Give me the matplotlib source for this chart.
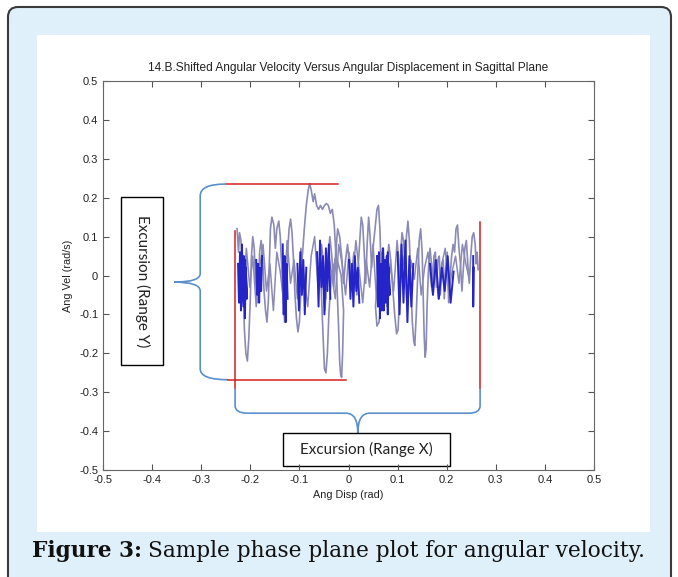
import numpy as np
import matplotlib
matplotlib.use('Agg')
import matplotlib.pyplot as plt
from matplotlib.patches import FancyBboxPatch, Rectangle, PathPatch
from matplotlib.path import Path
from matplotlib.transforms import IdentityTransform

# phase plane trace (displacement rad, velocity rad/s)
disp_trace = [-0.227, -0.224, -0.222, -0.219, -0.217, -0.214, -0.212, -0.209, -0.206, -0.203,
              -0.200, -0.198, -0.195, -0.192, -0.189, -0.186, -0.183, -0.181, -0.178, -0.175,
              -0.172, -0.169, -0.166, -0.163, -0.161, -0.159, -0.156, -0.152, -0.149, -0.146,
              -0.142, -0.139, -0.136, -0.133, -0.130, -0.127, -0.124, -0.121, -0.118, -0.115,
              -0.112, -0.109, -0.106, -0.103, -0.100, -0.097, -0.094, -0.090, -0.086, -0.082,
              -0.079, -0.076, -0.072, -0.069, -0.065, -0.061, -0.057, -0.053, -0.049, -0.045,
              -0.041, -0.037, -0.033, -0.029, -0.026, -0.023, -0.020, -0.018, -0.016, -0.014,
              -0.012, -0.010, -0.015, -0.025, -0.035, -0.040, -0.043, -0.046, -0.049, -0.052,
              -0.055, -0.058, -0.055, -0.050, -0.046, -0.042, -0.038, -0.034, -0.030, -0.026,
              -0.022, -0.018, -0.014, -0.010, -0.006, -0.002, 0.002, 0.005, 0.008, 0.011,
              0.014, 0.017, 0.020, 0.023, 0.026, 0.029, 0.032, 0.035, 0.038, 0.041,
              0.044, 0.047, 0.050, 0.054, 0.058, 0.061, 0.064, 0.066, 0.068, 0.062,
              0.058, 0.055, 0.060, 0.066, 0.070, 0.074, 0.078, 0.082, 0.086, 0.090,
              0.094, 0.098, 0.101, 0.104, 0.106, 0.109, 0.112, 0.115, 0.118, 0.121,
              0.124, 0.127, 0.130, 0.133, 0.135, 0.138, 0.141, 0.144, 0.147, 0.150,
              0.152, 0.154, 0.156, 0.158, 0.160, 0.163, 0.166, 0.169, 0.171, 0.174,
              0.177, 0.179, 0.182, 0.185, 0.187, 0.190, 0.193, 0.195, 0.198, 0.201,
              0.204, 0.207, 0.210, 0.213, 0.216, 0.219, 0.222, 0.225, 0.228, 0.231,
              0.234, 0.237, 0.240, 0.243, 0.246, 0.249, 0.252, 0.255, 0.258, 0.260,
              0.262, 0.264]
vel_trace = [0.12, 0.06, 0.11, 0.09, 0.03, -0.06, -0.14, -0.20, -0.22, -0.16,
             -0.06, 0.04, 0.10, 0.07, -0.02, -0.07, -0.02, 0.06, 0.09, 0.05,
             -0.04, -0.09, -0.12, -0.06, 0.04, 0.12, 0.15, 0.13, 0.07, 0.12,
             0.14, 0.10, 0.02, -0.06, -0.12, -0.05, 0.06, 0.12, 0.145, 0.11,
             0.04, -0.05, -0.11, -0.145, -0.12, -0.04, 0.05, 0.12, 0.18, 0.22,
             0.236, 0.22, 0.19, 0.21, 0.18, 0.17, 0.18, 0.17, 0.18, 0.185,
             0.18, 0.16, 0.17, 0.13, 0.06, -0.04, -0.14, -0.22, -0.255, -0.262,
             -0.20, -0.09, 0.00, 0.05, 0.00, -0.10, -0.20, -0.25, -0.24, -0.15,
             -0.05, 0.03, 0.08, 0.02, -0.06, 0.04, 0.10, 0.05, -0.03, 0.06,
             0.12, 0.10, 0.05, -0.02, 0.04, 0.08, 0.03, -0.04, 0.02, 0.06,
             0.00, -0.05, 0.03, 0.09, 0.15, 0.13, 0.06, -0.02, 0.08, 0.15,
             0.10, 0.02, 0.07, 0.12, 0.17, 0.18, 0.12, 0.03, -0.06, -0.12,
             -0.13, -0.08, 0.00, 0.06, 0.03, -0.04, 0.02, 0.08, 0.04, -0.03,
             -0.10, -0.15, -0.14, -0.05, 0.05, 0.11, 0.09, 0.02, 0.10, 0.14,
             0.09, -0.02, -0.12, -0.17, -0.18, -0.10, 0.00, 0.09, 0.12, 0.06,
             -0.05, -0.15, -0.21, -0.19, -0.08, 0.02, 0.07, 0.03, -0.04, 0.05,
             0.06, -0.03, 0.04, 0.05, -0.05, 0.03, 0.04, -0.06, 0.02, 0.06,
             -0.07, 0.00, 0.05, 0.08, 0.06, 0.12, 0.13, 0.07, 0.03, -0.04,
             0.02, 0.07, 0.09, 0.03, -0.02, 0.05, 0.10, 0.11, 0.08, 0.03,
             0.06, 0.015]

# second, smaller pass through the middle band
disp_pass2 = [-0.220, -0.214, -0.208, -0.201, -0.195, -0.188, -0.181, -0.174, -0.167, -0.160,
              -0.153, -0.146, -0.139, -0.132, -0.125, -0.118, -0.111, -0.104, -0.097, -0.090,
              -0.083, -0.076, -0.069, -0.062, -0.055, -0.048, -0.041, -0.034, -0.027, -0.020,
              -0.013, -0.006, 0.001, 0.008, 0.015, 0.022, 0.029, 0.036, 0.043, 0.050,
              0.057, 0.064, 0.071, 0.078, 0.085, 0.092, 0.099, 0.106, 0.113, 0.120,
              0.127, 0.134, 0.141, 0.148, 0.155, 0.162, 0.169, 0.176, 0.183, 0.190,
              0.197, 0.204, 0.211, 0.218, 0.225, 0.232, 0.239, 0.246]
vel_pass2 = [0.04, -0.05, 0.07, -0.03, 0.05, -0.08, 0.02, 0.08, -0.04, 0.03,
             -0.09, 0.06, 0.01, -0.07, 0.09, -0.02, 0.04, -0.06, 0.07, -0.01,
             -0.08, 0.05, 0.10, -0.03, 0.02, -0.09, 0.06, 0.00, -0.06, 0.08,
             0.03, -0.05, 0.06, -0.02, 0.09, 0.01, -0.07, 0.04, -0.03, 0.08,
             -0.06, 0.02, 0.07, -0.08, 0.03, -0.04, 0.09, -0.02, 0.05, -0.09,
             0.04, -0.01, 0.07, -0.05, 0.02, 0.06, -0.03, 0.04, -0.06, 0.03,
             0.07, -0.04, 0.01, 0.05, -0.02, 0.08, 0.03, -0.01]

# dense dark-blue bursts
burst_disp = [
    [-0.225, -0.223, -0.221, -0.219, -0.217, -0.215, -0.213, -0.211, -0.209, -0.207, -0.210, -0.214, -0.218, -0.222],
    [-0.188, -0.186, -0.184, -0.182, -0.180, -0.178, -0.176],
    [-0.134, -0.132, -0.130, -0.128, -0.126, -0.124],
    [-0.104, -0.101, -0.098, -0.095, -0.092, -0.089, -0.086],
    [-0.064, -0.061, -0.058, -0.055, -0.052, -0.049, -0.046, -0.043, -0.040, -0.037],
    [0.001, 0.004, 0.007, 0.010, 0.013, 0.016, 0.019, 0.022],
    [0.058, 0.060, 0.062, 0.064, 0.066, 0.068, 0.070, 0.072, 0.074, 0.076, 0.078, 0.080, 0.082, 0.084, 0.080, 0.074, 0.068, 0.062],
    [0.100, 0.104, 0.108, 0.112, 0.116, 0.120, 0.124, 0.128, 0.132],
    [0.166, 0.172, 0.178, 0.184, 0.190, 0.196, 0.202, 0.208, 0.214],
    [0.254, 0.254, 0.255],
]
burst_vel = [
    [0.03, -0.07, 0.06, -0.09, 0.08, -0.04, 0.05, -0.11, 0.02, -0.06, 0.04, -0.08, 0.01, -0.04],
    [0.04, -0.05, 0.03, -0.07, 0.02, -0.04, 0.05],
    [0.08, -0.10, 0.05, -0.12, 0.03, -0.06],
    [0.03, -0.09, 0.06, -0.05, 0.04, -0.10, 0.02],
    [0.06, -0.08, 0.09, -0.03, 0.05, -0.10, 0.07, -0.04, 0.08, -0.06],
    [0.04, -0.06, 0.03, -0.08, 0.05, -0.04, 0.02, -0.07],
    [0.05, -0.08, 0.06, -0.11, 0.03, -0.06, 0.07, -0.09, 0.04, -0.07, 0.05, -0.10, 0.02, -0.05, 0.06, -0.03, -0.09, 0.01],
    [0.06, -0.10, 0.08, -0.07, 0.09, -0.12, 0.05, -0.08, 0.03],
    [0.03, -0.05, 0.04, -0.06, 0.02, -0.04, 0.05, -0.07, 0.01],
    [0.05, -0.08, 0.02],
]

ticks = [-0.5, -0.4, -0.3, -0.2, -0.1, 0.0, 0.1, 0.2, 0.3, 0.4, 0.5]
tick_labels = ['-0.5', '-0.4', '-0.3', '-0.2', '-0.1', '0', '0.1', '0.2', '0.3', '0.4', '0.5']

fig = plt.figure(figsize=(6.78, 5.77), dpi=100)
fig.patch.set_facecolor('white')

# page frame and white panel (pixel coords), kept behind the axes
frame = FancyBboxPatch((8, -20), 663, 590, boxstyle='round,pad=0,rounding_size=10',
                       transform=IdentityTransform(), facecolor='#dff0fa', edgecolor='#3a3a3a',
                       lw=1.5, zorder=-10)
fig.add_artist(frame)
panel = Rectangle((37, 45), 613, 497, transform=IdentityTransform(), facecolor='white',
                  edgecolor='none', zorder=-9)
fig.add_artist(panel)

ax = fig.add_axes([103/678, 107/577, 491/678, 389/577])
ax.set_zorder(5)
ax.plot(disp_pass2, vel_pass2, color='#8a8ab5', lw=1.1)
ax.plot(disp_trace, vel_trace, color='#8a8ab5', lw=1.2)
for bx, by in zip(burst_disp, burst_vel):
    ax.plot(bx, by, color='#2424c8', lw=1.4)

ax.set_xlim(-0.5, 0.5)
ax.set_ylim(-0.5, 0.5)
ax.set_xticks(ticks)
ax.set_xticklabels(tick_labels)
ax.set_yticks(ticks)
ax.set_yticklabels(tick_labels)
ax.tick_params(direction='in', top=True, right=True, length=4, width=0.8,
               labelsize=8, colors='#555555', labelcolor='#222222')
for lab in ax.get_xticklabels() + ax.get_yticklabels():
    lab.set_family('Liberation Sans')
for s in ax.spines.values():
    s.set_color('#666666')
    s.set_linewidth(0.8)

ax.text(0.5, 1 + 13/389, '14.B.Shifted Angular Velocity Versus Angular Displacement in Sagittal Plane',
        transform=ax.transAxes, ha='center', va='center', fontsize=8.6, family='Liberation Sans', color='#222222')
ax.text(0.5, -25/389, 'Ang Disp (rad)', transform=ax.transAxes, ha='center', va='center',
        fontsize=7.8, family='Liberation Sans', color='#222222')
ax.text(-35/491, 0.5, 'Ang Vel (rad/s)', transform=ax.transAxes, ha='center', va='center',
        rotation=90, fontsize=7.8, family='Liberation Sans', color='#222222')

# red range markers
red = '#d42020'
ax.plot([-0.249, -0.021], [0.235, 0.235], color=red, lw=1.1)
ax.plot([-0.245, -0.005], [-0.268, -0.268], color=red, lw=1.1)
ax.plot([-0.231, -0.231], [0.114, -0.29], color=red, lw=1.1)
ax.plot([0.268, 0.268], [0.137, -0.29], color=red, lw=1.1)

# braces
M, L, Q = Path.MOVETO, Path.LINETO, Path.CURVE3
brace_y = Path([(-0.251, 0.235), (-0.302, 0.235), (-0.302, 0.205), (-0.302, 0.005),
                (-0.302, -0.017), (-0.355, -0.017), (-0.302, -0.017), (-0.302, -0.040),
                (-0.302, -0.240), (-0.302, -0.268), (-0.245, -0.268)],
               [M, Q, Q, L, Q, Q, Q, Q, L, Q, Q])
brace_x = Path([(-0.231, -0.29), (-0.231, -0.335), (-0.231, -0.354), (-0.205, -0.354),
                (-0.005, -0.354), (0.019, -0.354), (0.019, -0.405), (0.019, -0.354),
                (0.043, -0.354), (0.245, -0.354), (0.268, -0.354), (0.268, -0.335),
                (0.268, -0.29)],
               [M, L, Q, Q, L, Q, Q, Q, Q, L, Q, Q, L])
for p in (brace_y, brace_x):
    ax.add_patch(PathPatch(p, facecolor='none', edgecolor='#5a8fcc', lw=1.2))

# text boxes
ax.add_patch(Rectangle((-0.463, -0.230), 0.085, 0.432, facecolor='white', edgecolor='black', lw=1.0))
ax.text(-0.4205, -0.014, 'Excursion (Range Y)', rotation=270, ha='center', va='center',
        fontsize=11, family='Lato', color='#222222')
ax.add_patch(Rectangle((-0.133, -0.490), 0.340, 0.085, facecolor='white', edgecolor='black', lw=1.0))
ax.text(0.037, -0.447, 'Excursion (Range X)', ha='center', va='center',
        fontsize=11, family='Lato', color='#222222')

# caption
t1 = fig.text(32/678, 26/577, 'Figure 3:', fontsize=15.6, weight='bold', family='DejaVu Serif',
              va='center', ha='left', color='#111111')
fig.canvas.draw()
bb = t1.get_window_extent()
fig.text((bb.x1 + 6)/678, 26/577, 'Sample phase plane plot for angular velocity.', fontsize=15.6,
         family='DejaVu Serif', va='center', ha='left', color='#111111')

fig.savefig('out.png', dpi=100)
